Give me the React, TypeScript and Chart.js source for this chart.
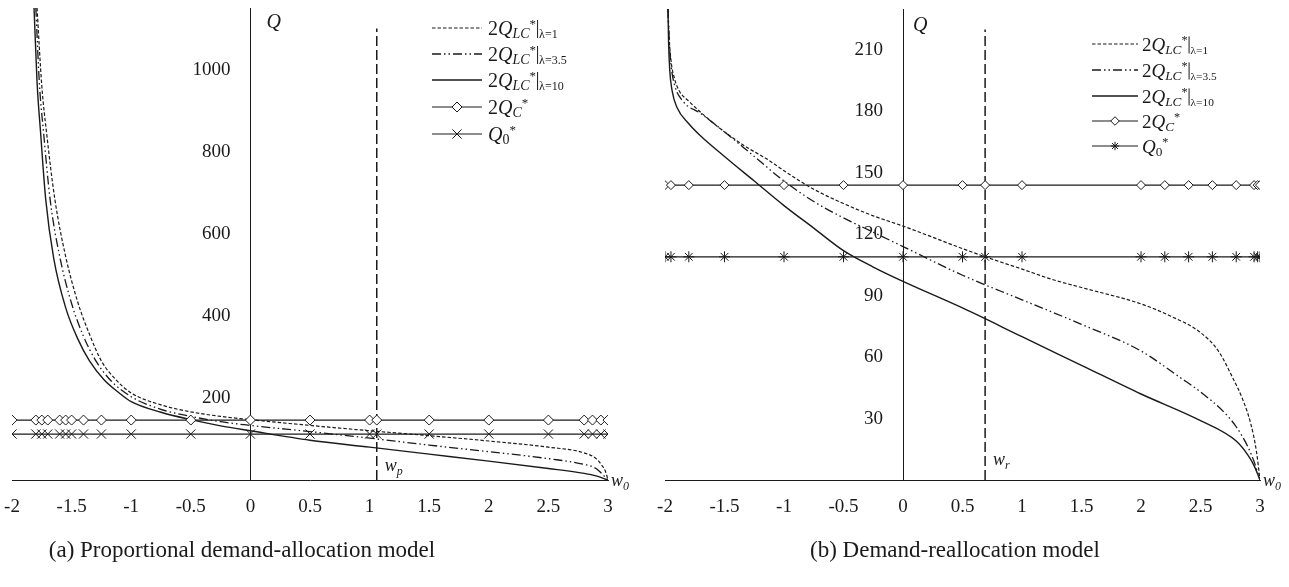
import React, { useEffect, useRef } from "react";
import { Chart, registerables } from "chart.js";
Chart.register(...registerables);

const SERIF = '"Liberation Serif", "Times New Roman", serif';
const INK = "#1a1a1a";

// ---------- shared axis data ----------
const xTicks = [-2, -1.5, -1, -0.5, 0, 0.5, 1, 1.5, 2, 2.5, 3];
const xTickLabels = ["-2", "-1.5", "-1", "-0.5", "0", "0.5", "1", "1.5", "2", "2.5", "3"];
const lambdas = ["1", "3.5", "10"];

// ---------- (a) proportional demand-allocation model ----------
const leftYTicks = [200, 400, 600, 800, 1000];
const leftYTickLabels = ["200", "400", "600", "800", "1000"];
const leftYMax = 1150;
const leftW1 = [-1.79, -1.75, -1.71, -1.64, -1.55, -1.45, -1.35, -1.25, -1.13, -1.0, -0.75, -0.5, -0.25, 0, 0.5, 1.0, 1.5, 2.0, 2.5, 2.8, 2.9, 2.95, 2.98, 3.0];
const leftQ1 = [1150, 960, 846, 683, 545, 435, 355, 290, 245, 212, 183, 166, 155, 147, 133, 120, 108, 95, 80, 66, 52, 35, 20, 0];
const leftW35 = [-1.8, -1.77, -1.735, -1.68, -1.6, -1.5, -1.4, -1.3, -1.18, -1.0, -0.75, -0.5, -0.25, 0, 0.5, 1.0, 1.5, 2.0, 2.5, 2.8, 2.9, 2.95, 3.0];
const leftQ35 = [1150, 965, 846, 683, 545, 430, 350, 292, 245, 203, 172, 155, 142, 133, 118, 102, 85, 69, 52, 38, 28, 15, 0];
const leftW10 = [-1.815, -1.79, -1.76, -1.717, -1.65, -1.55, -1.45, -1.35, -1.23, -1.1, -1.0, -0.75, -0.5, -0.25, 0, 0.5, 1.0, 1.5, 2.0, 2.5, 2.8, 2.9, 3.0];
const leftQ10 = [1150, 970, 846, 683, 540, 420, 345, 290, 245, 212, 191, 165, 147, 132, 120, 97, 80, 63, 46, 28, 16, 10, 0];
const leftMarkerW = [-2, -1.8, -1.75, -1.7, -1.6, -1.55, -1.5, -1.4, -1.25, -1, -0.5, 0, 0.5, 1, 1.06, 1.5, 2, 2.5, 2.8, 2.87, 2.94, 3];
const leftQC = 146;
const leftQ0 = 112;
const leftWp = 1.06;
const leftDashTop = 1100;

// ---------- (b) demand-reallocation model ----------
const rightYTicks = [30, 60, 90, 120, 150, 180, 210];
const rightYTickLabels = ["30", "60", "90", "120", "150", "180", "210"];
const rightYMax = 230;
const rightW1 = [-1.975, -1.965, -1.95, -1.92, -1.88, -1.8, -1.65, -1.5, -1.3, -1.15, -1.0, -0.75, -0.5, -0.25, 0, 0.5, 0.69, 1.0, 1.25, 1.5, 2.0, 2.25, 2.5, 2.65, 2.77, 2.85, 2.92, 2.97, 3.0];
const rightQ1 = [230, 216, 205, 196, 190, 185, 177, 170, 162, 157, 151, 142, 135, 129, 124, 113, 109, 103, 98, 94, 86, 80, 72, 63, 50, 40, 28, 14, 0];
const rightW35 = [-1.975, -1.965, -1.95, -1.92, -1.85, -1.7, -1.5, -1.25, -1.0, -0.75, -0.5, -0.25, 0, 0.5, 1.0, 1.5, 2.0, 2.33, 2.5, 2.7, 2.8, 2.9, 2.95, 3.0];
const rightQ35 = [230, 215, 203, 193, 185, 179, 170, 158, 146, 136, 128, 121, 114, 100, 88, 76, 63, 50, 43, 33, 26, 16, 9, 0];
const rightW10 = [-1.975, -1.97, -1.96, -1.94, -1.9, -1.8, -1.7, -1.5, -1.25, -1.0, -0.75, -0.5, -0.25, 0, 0.5, 1.0, 1.5, 2.0, 2.5, 2.8, 2.9, 2.95, 3.0];
const rightQ10 = [230, 214, 200, 190, 182, 174, 168, 158, 146, 134, 123, 112, 104, 97, 84, 70, 56, 42, 29, 19, 12, 7, 0];
const rightMarkerW = [-2, -1.95, -1.8, -1.5, -1, -0.5, 0, 0.5, 0.69, 1, 2, 2.2, 2.4, 2.6, 2.8, 2.95, 2.98, 3];
const rightQC = 144;
const rightQ0 = 109;
const rightWr = 0.69;
const rightDashTop = 220;

// ---------- styles ----------
const DASH_L1 = [3.5, 2];
const DASH_L35 = [9, 3, 1.5, 3, 1.5, 3];
const DASH_V = [10, 4];

type Part = { t?: string; size?: number; italic?: boolean; dy?: number; bar?: boolean };

function drawParts(ctx: CanvasRenderingContext2D, x: number, y: number, parts: Part[], k: number) {
  for (const p of parts) {
    if (p.bar) {
      ctx.save();
      ctx.lineWidth = 1;
      ctx.strokeStyle = INK;
      ctx.beginPath();
      ctx.moveTo(x + 1.5 * k, y - 15 * k);
      ctx.lineTo(x + 1.5 * k, y + 3 * k);
      ctx.stroke();
      ctx.restore();
      x += 3 * k;
      continue;
    }
    ctx.font = `${p.italic ? "italic " : ""}${(p.size || 20) * k}px ${SERIF}`;
    ctx.fillText(p.t || "", x, y + (p.dy || 0) * k);
    x += ctx.measureText(p.t || "").width;
  }
}

function diamond(ctx: CanvasRenderingContext2D, x: number, y: number, r: number) {
  ctx.beginPath();
  ctx.moveTo(x, y - r);
  ctx.lineTo(x + r, y);
  ctx.lineTo(x, y + r);
  ctx.lineTo(x - r, y);
  ctx.closePath();
  ctx.fillStyle = "#fff";
  ctx.fill();
  ctx.stroke();
}
function crossMark(ctx: CanvasRenderingContext2D, x: number, y: number, r: number) {
  const o = r * Math.SQRT1_2;
  ctx.beginPath();
  ctx.moveTo(x - o, y - o); ctx.lineTo(x + o, y + o);
  ctx.moveTo(x - o, y + o); ctx.lineTo(x + o, y - o);
  ctx.stroke();
}
function starMark(ctx: CanvasRenderingContext2D, x: number, y: number, r: number) {
  crossMark(ctx, x, y, r);
  ctx.beginPath();
  ctx.moveTo(x, y - r); ctx.lineTo(x, y + r);
  ctx.moveTo(x - r, y); ctx.lineTo(x + r, y);
  ctx.stroke();
}

type Side = {
  yTicks: number[]; yTickLabels: string[]; yMax: number;
  curves: { w: number[]; q: number[]; dash: number[]; width: number }[];
  markerW: number[]; qc: number; q0: number; wv: number; dashTop: number;
  q0Style: string; vSub: string;
  pad: { left: number; right: number; top: number; bottom: number };
  legend: { lineX0: number; lineX1: number; textX: number; rows: number[]; k: number };
  qLabelDx: number; qLabelY: number; vLabelY: number; markR: number; crossR: number;
};

function makeChart(canvas: HTMLCanvasElement, s: Side) {
  const pts = (w: number[], q: number[]) => w.map((v, i) => ({ x: v, y: q[i] }));
  const hline = (q: number) => s.markerW.map((v) => ({ x: v, y: q }));
  const datasets: any[] = [
    {
      data: hline(s.qc), borderColor: INK, borderWidth: 1.2, pointStyle: "rectRot",
      pointRadius: s.markR, pointBackgroundColor: "#fff", pointBorderColor: INK, pointBorderWidth: 1, order: 0,
    },
    {
      data: hline(s.q0), borderColor: INK, borderWidth: 1.2, pointStyle: s.q0Style,
      pointRadius: s.crossR, pointBackgroundColor: "#fff", pointBorderColor: INK, pointBorderWidth: 1, order: 0,
    },
    ...s.curves.map((c) => ({
      data: pts(c.w, c.q), borderColor: INK, borderWidth: c.width, borderDash: c.dash,
      pointRadius: 0, cubicInterpolationMode: "monotone", order: 1,
    })),
    {
      data: [{ x: s.wv, y: 0 }, { x: s.wv, y: s.dashTop }], borderColor: INK, borderWidth: 1.5,
      borderDash: DASH_V, pointRadius: 0, order: 2,
    },
  ];

  const annot = {
    id: "annot",
    afterDraw(chart: any) {
      const ctx: CanvasRenderingContext2D = chart.ctx;
      const xs = chart.scales.x;
      const ys = chart.scales.y;
      const axisX = xs.getPixelForValue(0);
      ctx.save();
      ctx.fillStyle = INK;
      ctx.strokeStyle = INK;
      // y tick labels, placed left of the y axis that crosses at w = 0
      ctx.font = `19px ${SERIF}`;
      ctx.textAlign = "right";
      ctx.textBaseline = "middle";
      ys.ticks.forEach((t: any, i: number) => {
        ctx.fillText(s.yTickLabels[i], axisX - 20, ys.getPixelForValue(t.value));
      });
      ctx.textBaseline = "alphabetic";
      ctx.textAlign = "left";
      // axis label Q
      ctx.font = `italic 20px ${SERIF}`;
      ctx.fillText("Q", axisX + s.qLabelDx, s.qLabelY);
      // w_p / w_r label
      const vx = xs.getPixelForValue(s.wv) + 8;
      drawParts(ctx, vx, s.vLabelY, [{ t: "w", size: 18, italic: true }, { t: s.vSub, size: 12, italic: true, dy: 4 }], 1);
      // w0 label
      const ex = xs.getPixelForValue(3) + 3;
      drawParts(ctx, ex, ys.getPixelForValue(0) + 6, [{ t: "w", size: 18, italic: true }, { t: "0", size: 12, italic: true, dy: 4 }], 1);

      // legend
      const L = s.legend;
      const k = L.k;
      const labels: Part[][] = [
        ...lambdas.map((lam) => [
          { t: "2", size: 20 }, { t: "Q", size: 20, italic: true }, { t: "LC", size: 14, italic: true, dy: 3 },
          { t: "*", size: 13, dy: -7 }, { bar: true }, { t: "λ=" + lam, size: 12, dy: 3 },
        ]),
        [{ t: "2", size: 20 }, { t: "Q", size: 20, italic: true }, { t: "C", size: 14, italic: true, dy: 3 }, { t: "*", size: 13, dy: -7 }],
        [{ t: "Q", size: 20, italic: true }, { t: "0", size: 14, dy: 3 }, { t: "*", size: 13, dy: -7 }],
      ];
      L.rows.forEach((ry, i) => {
        ctx.save();
        ctx.lineWidth = i < 3 ? s.curves[i].width : 1.2;
        ctx.setLineDash(i < 3 ? s.curves[i].dash : []);
        ctx.beginPath();
        ctx.moveTo(L.lineX0, ry);
        ctx.lineTo(L.lineX1, ry);
        ctx.stroke();
        ctx.setLineDash([]);
        ctx.lineWidth = 1;
        const mx = (L.lineX0 + L.lineX1) / 2;
        if (i === 3) diamond(ctx, mx, ry, s.markR * k);
        if (i === 4) {
          if (s.q0Style === "star") starMark(ctx, mx, ry, s.crossR * 0.8 * k);
          else crossMark(ctx, mx, ry, s.crossR * k);
        }
        ctx.restore();
        ctx.fillStyle = INK;
        drawParts(ctx, L.textX, ry + 7 * k, labels[i], k);
      });
      ctx.restore();
    },
  };

  const tickFont = { family: SERIF, size: 19 };
  return new Chart(canvas, {
    type: "line",
    data: { datasets },
    plugins: [annot],
    options: {
      animation: false,
      responsive: false,
      devicePixelRatio: 1,
      layout: { padding: s.pad },
      plugins: { legend: { display: false }, tooltip: { enabled: false }, title: { display: false } },
      elements: { line: { tension: 0 } },
      scales: {
        x: {
          type: "linear",
          position: { y: 0 } as any,
          min: -2,
          max: 3,
          afterBuildTicks: (sc: any) => { sc.ticks = xTicks.map((v) => ({ value: v })); },
          afterFit: (sc: any) => { sc.paddingLeft = 0; sc.paddingRight = 0; sc.paddingTop = 0; sc.paddingBottom = 0; },
          grid: { display: false, drawTicks: false },
          border: { display: true, color: INK, width: 1 },
          ticks: {
            font: tickFont, color: INK, padding: 16, maxRotation: 0, autoSkip: false,
            callback: (_v: any, i: number) => xTickLabels[i],
          },
        },
        y: {
          type: "linear",
          position: { x: 0 } as any,
          min: 0,
          max: s.yMax,
          afterBuildTicks: (sc: any) => { sc.ticks = s.yTicks.map((v) => ({ value: v })); },
          afterFit: (sc: any) => { sc.paddingLeft = 0; sc.paddingRight = 0; sc.paddingTop = 0; sc.paddingBottom = 0; },
          grid: { display: false, drawTicks: false },
          border: { display: true, color: INK, width: 1 },
          ticks: { display: false },
        },
      },
    } as any,
  });
}

const leftSide: Side = {
  yTicks: leftYTicks, yTickLabels: leftYTickLabels, yMax: leftYMax,
  curves: [
    { w: leftW1, q: leftQ1, dash: DASH_L1, width: 1.2 },
    { w: leftW35, q: leftQ35, dash: DASH_L35, width: 1.3 },
    { w: leftW10, q: leftQ10, dash: [], width: 1.4 },
  ],
  markerW: leftMarkerW, qc: leftQC, q0: leftQ0, wv: leftWp, dashTop: leftDashTop,
  q0Style: "crossRot", vSub: "p",
  pad: { left: 12, right: 32, top: 8, bottom: 107 },
  legend: { lineX0: 432, lineX1: 482, textX: 488, rows: [28, 54, 80, 107, 134], k: 1 },
  qLabelDx: 16, qLabelY: 28, vLabelY: 471, markR: 5, crossR: 6.5,
};

const rightSide: Side = {
  yTicks: rightYTicks, yTickLabels: rightYTickLabels, yMax: rightYMax,
  curves: [
    { w: rightW1, q: rightQ1, dash: DASH_L1, width: 1.2 },
    { w: rightW35, q: rightQ35, dash: DASH_L35, width: 1.3 },
    { w: rightW10, q: rightQ10, dash: [], width: 1.4 },
  ],
  markerW: rightMarkerW, qc: rightQC, q0: rightQ0, wv: rightWr, dashTop: rightDashTop,
  q0Style: "star", vSub: "r",
  pad: { left: 25, right: 29, top: 9, bottom: 107 },
  legend: { lineX0: 452, lineX1: 498, textX: 502, rows: [44, 70, 96, 121, 146], k: 0.95 },
  qLabelDx: 10, qLabelY: 31, vLabelY: 465, markR: 4.5, crossR: 5.5,
};

function Panel({ side, left, width }: { side: Side; left: number; width: number }) {
  const ref = useRef<HTMLCanvasElement>(null);
  useEffect(() => {
    if (!ref.current) return;
    const ch = makeChart(ref.current, side);
    return () => ch.destroy();
  }, [side]);
  return (
    <canvas
      ref={ref}
      width={width}
      height={587}
      style={{ position: "absolute", left, top: 0, width, height: 587 }}
    />
  );
}

const captionStyle: React.CSSProperties = {
  position: "absolute",
  top: 537,
  width: 600,
  textAlign: "center",
  fontFamily: SERIF,
  fontSize: 23,
  lineHeight: "26px",
  color: INK,
  whiteSpace: "nowrap",
};

export default function App() {
  return (
    <div style={{ position: "absolute", left: 0, top: 0, width: 1289, height: 587, background: "#fff", overflow: "hidden" }}>
      <Panel side={leftSide} left={0} width={640} />
      <Panel side={rightSide} left={640} width={649} />
      <div style={{ ...captionStyle, left: 242 - 300 }}>(a) Proportional demand-allocation model</div>
      <div style={{ ...captionStyle, left: 955 - 300 }}>(b) Demand-reallocation model</div>
    </div>
  );
}
